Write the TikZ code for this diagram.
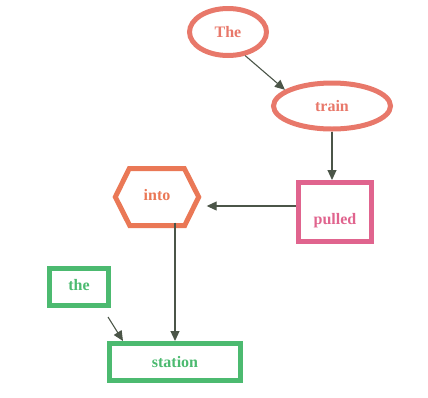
\documentclass[tikz,border=0pt]{standalone}
\usepackage{fontspec}
\setmainfont{Liberation Serif}
\usetikzlibrary{shapes.geometric,arrows.meta,calc}
\definecolor{salmon}{HTML}{E8786A}
\definecolor{hexor}{HTML}{EA7856}
\definecolor{pinkc}{HTML}{E0648E}
\definecolor{greenc}{HTML}{4CBA70}
\definecolor{arrc}{HTML}{4B5548}
\tikzset{
  x=1pt,y=-1pt,
  lbl/.style={font=\fontsize{16}{18}\selectfont\bfseries},
  ell/.style={ellipse,draw=salmon,line width=5pt,text=salmon,inner sep=0pt,lbl},
  boxp/.style={rectangle,draw=pinkc,line width=5pt,text=pinkc,inner sep=0pt,lbl},
  boxg/.style={rectangle,draw=greenc,line width=5pt,text=greenc,inner sep=0pt,lbl},
  conn/.style={draw=arrc,line width=1.1pt,-{Triangle[length=10pt,width=9pt]}},
  plain/.style={draw=arrc,line width=1.1pt}
}
\begin{document}
\begin{tikzpicture}
\useasboundingbox (0,0) rectangle (428,397);
\node[ell,minimum width=77pt,minimum height=47pt] (The) at (228,32) {The};
\node[ell,minimum width=117pt,minimum height=46pt] (train) at (332,106) {train};
\node[boxp,minimum width=73pt,minimum height=59pt] (pulled) at (335,212) {\raisebox{-12pt}[0pt][0pt]{pulled}};
\node[lbl,text=hexor,inner sep=0pt,minimum width=83pt,minimum height=57pt] (into) at (157,197) {\raisebox{-3pt}[0pt][0pt]{into}\hspace{6pt}};
\draw[hexor,line width=5pt,line join=miter] (into.west) -- ++(14,-28.5) -- ++(55,0) -- (into.east) -- ++(-14,28.5) -- ++(-55,0) -- cycle;
\node[boxg,minimum width=59pt,minimum height=37pt] (the) at (79,287) {\raisebox{-3pt}[0pt][0pt]{the}};
\node[boxg,minimum width=131pt,minimum height=37pt] (station) at (175,362) {station};
\coordinate (tstart) at (108,317);
\draw[conn] (The.-54) -- (train.161);
\draw[conn] (train.south) -- (train.south |- pulled.north);
\draw[conn] ([yshift=6pt]pulled.west) -- ([xshift=8pt,yshift=-9pt]into.east);
\draw[conn] ([yshift=3pt]station.north |- into.south) -- (station.north);
\draw[conn] (tstart) -- ([xshift=16pt]station.north west);
\end{tikzpicture}
\end{document}
